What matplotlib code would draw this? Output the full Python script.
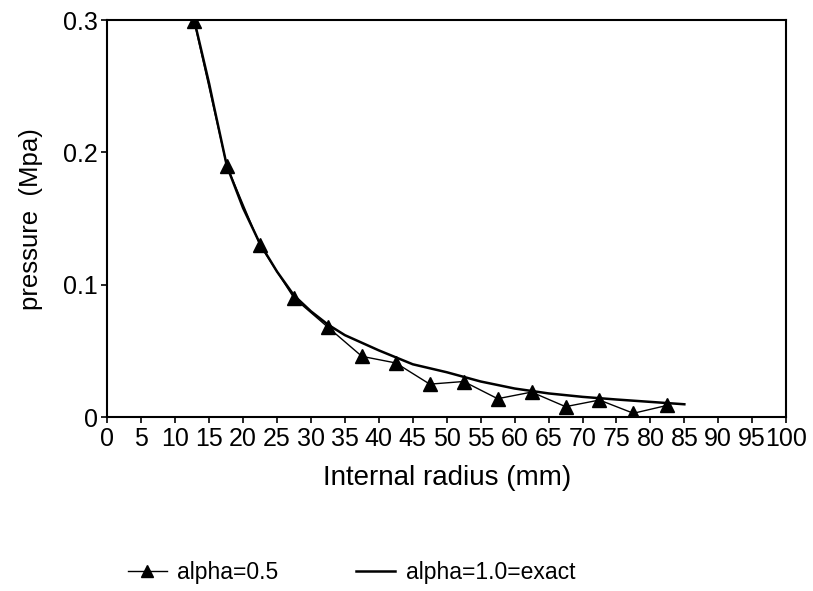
import matplotlib
matplotlib.use("Agg")
import matplotlib.pyplot as plt

plt.rcParams['font.family'] = ['Liberation Sans', 'DejaVu Sans']

# alpha = 0.5 solution (triangles)
radius_half = [12.8, 17.6, 22.5, 27.5, 32.5, 37.5, 42.5, 47.5, 52.5, 57.5,
               62.5, 67.5, 72.5, 77.5, 82.5]
pressure_half = [0.299, 0.190, 0.130, 0.090, 0.068, 0.046, 0.041, 0.025, 0.027,
                 0.014, 0.019, 0.008, 0.013, 0.003, 0.009]

# alpha = 1.0 exact solution
radius_exact = [12.8, 15, 15.7, 17.6, 20, 22.5, 25, 27.5, 30, 32.5, 35, 40, 45,
                50, 55, 60, 65, 70, 75, 80, 85]
pressure_exact = [0.300, 0.252, 0.235, 0.190, 0.158, 0.131, 0.110, 0.092, 0.080,
                  0.070, 0.062, 0.0505, 0.040, 0.034, 0.027, 0.0217, 0.018,
                  0.0154, 0.0134, 0.0116, 0.0098]

x_ticks = list(range(0, 101, 5))
y_ticks = [0, 0.1, 0.2, 0.3]
y_tick_labels = ["0", "0.1", "0.2", "0.3"]

fig = plt.figure(figsize=(8.13, 5.91), dpi=100)
ax = fig.add_axes([0.132, 0.294, 0.835, 0.672])

l1, = ax.plot(radius_half, pressure_half, color="black", lw=1.0,
              marker="^", markersize=10, markeredgecolor="black",
              markerfacecolor="black", zorder=3)
l2, = ax.plot(radius_exact, pressure_exact, color="black", lw=1.8, zorder=2)

ax.set_xlim(0, 100)
ax.set_ylim(0, 0.3)
ax.set_xticks(x_ticks)
ax.set_xticklabels([str(t) for t in x_ticks])
ax.set_yticks(y_ticks)
ax.set_yticklabels(y_tick_labels)
ax.tick_params(axis="both", direction="out", length=4, width=1.2,
               labelsize=18, pad=3, colors="black")
for s in ax.spines.values():
    s.set_linewidth(1.5)

ax.set_xlabel("Internal radius (mm)", fontsize=20, labelpad=10)
ax.set_ylabel("pressure  (Mpa)", fontsize=18.5, labelpad=14)

fig.legend([l1, l2], ["alpha=0.5", "alpha=1.0=exact"], ncol=2,
           loc="center left", bbox_to_anchor=(0.132, 1 - 573 / 591),
           frameon=False, fontsize=16.5, handlelength=1.7, handletextpad=0.45,
           columnspacing=3.4, markerscale=0.9)

fig.savefig("out.png", dpi=100)
